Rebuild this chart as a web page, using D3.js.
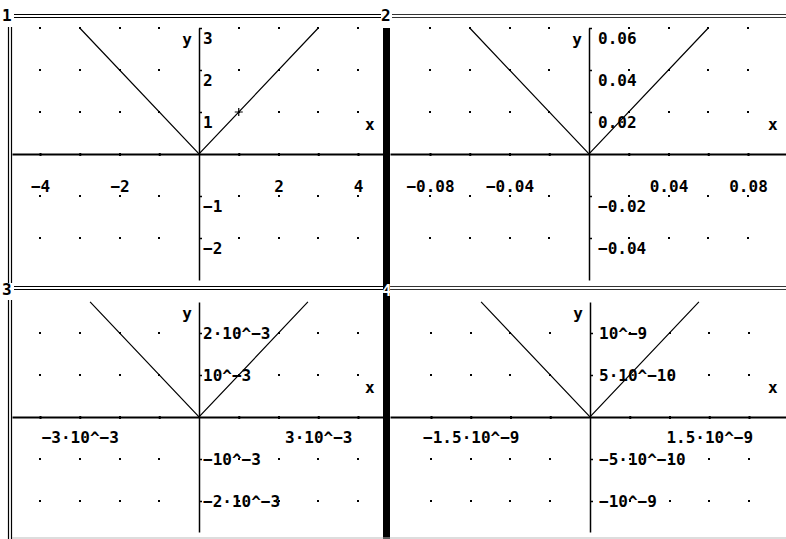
<!DOCTYPE html>
<html>
<head>
<meta charset="utf-8">
<script src="https://cdn.jsdelivr.net/npm/d3@7/dist/d3.min.js"></script>
<style>
  body { margin: 0; background: #fff; }
  svg text {
    font-family: "DejaVu Sans Mono", "Liberation Mono", monospace;
    font-weight: bold;
    font-size: 16px;
    fill: #000;
  }
</style>
</head>
<body>
<svg id="chart" width="786" height="539"></svg>
<script>
;(function() {
  'use strict';

  // Window numbers shown in the top-left of each plot.
  var panelNames = ['1', '2', '3', '4'];

  // Grid step of each window, in data units.
  var xSteps = [1, 0.02, 1e-3, 5e-10];
  var ySteps = [1, 0.02, 1e-3, 5e-10];

  // Labelled ticks.
  var xTicks = [
    [-4, -2, 2, 4],
    [-0.08, -0.04, 0.04, 0.08],
    [-3e-3, 3e-3],
    [-1.5e-9, 1.5e-9]
  ];
  var xTickLabels = [
    ['\u22124', '\u22122', '2', '4'],
    ['\u22120.08', '\u22120.04', '0.04', '0.08'],
    ['\u22123\u00b710^\u22123', '3\u00b710^\u22123'],
    ['\u22121.5\u00b710^\u22129', '1.5\u00b710^\u22129']
  ];
  var yTicks = [
    [3, 2, 1, -1, -2],
    [0.06, 0.04, 0.02, -0.02, -0.04],
    [2e-3, 1e-3, -1e-3, -2e-3],
    [1e-9, 5e-10, -5e-10, -1e-9]
  ];
  var yTickLabels = [
    ['3', '2', '1', '\u22121', '\u22122'],
    ['0.06', '0.04', '0.02', '\u22120.02', '\u22120.04'],
    ['2\u00b710^\u22123', '10^\u22123', '\u221210^\u22123', '\u22122\u00b710^\u22123'],
    ['10^\u22129', '5\u00b710^\u221210', '\u22125\u00b710^\u221210', '\u221210^\u22129']
  ];

  // y = |x|, plotted up to the top of each window.
  var curveX = [
    [-3, 0, 3],
    [-0.06, 0, 0.06],
    [-2.74e-3, 0, 2.74e-3],
    [-1.37e-9, 0, 1.37e-9]
  ];
  var curveY = [
    [3, 0, 3],
    [0.06, 0, 0.06],
    [2.74e-3, 0, 2.74e-3],
    [1.37e-9, 0, 1.37e-9]
  ];

  // Cursor cross in window 1.
  var cursorX = [1];
  var cursorY = [1];

  // Layout of the four windows (pixels).
  var frames = [
    {left: 12,  right: 383, top: 28,  bottom: 280, ox: 199, oy: 154, xLabY: 32, yLabX: 4, yLabDy: 10},
    {left: 390, right: 786, top: 28,  bottom: 280, ox: 589, oy: 154, xLabY: 32, yLabX: 9, yLabDy: 10},
    {left: 12,  right: 383, top: 302, bottom: 532, ox: 199, oy: 417, xLabY: 20, yLabX: 4, yLabDy: 0},
    {left: 390, right: 786, top: 302, bottom: 532, ox: 590, oy: 417, xLabY: 20, yLabX: 9, yLabDy: 0}
  ];
  var pxPerXStep = 39.75;
  var pxPerYStep = 42;

  var svg = d3.select('#chart');
  svg.append('rect').attr('width', 786).attr('height', 539).attr('fill', '#fff');

  frames.forEach(function(f, i) {
    var xs = xSteps[i], ys = ySteps[i];

    var x = d3.scaleLinear()
      .domain([(f.left - f.ox) / pxPerXStep * xs, (f.right - f.ox) / pxPerXStep * xs])
      .range([f.left, f.right]);
    var y = d3.scaleLinear()
      .domain([(f.oy - f.bottom) / pxPerYStep * ys, (f.oy - f.top) / pxPerYStep * ys])
      .range([f.bottom, f.top]);

    var g = svg.append('g').classed('panel panel-' + panelNames[i], true);

    // Grid columns / rows in step units.
    var cols = d3.range(Math.ceil((f.left + 4 - f.ox) / pxPerXStep), Math.floor((f.right - 4 - f.ox) / pxPerXStep) + 1)
      .map(function(k) { return k * xs; });
    var rows = d3.range(Math.ceil((f.oy - f.bottom + 3) / pxPerYStep), Math.floor((f.oy - f.top) / pxPerYStep) + 1)
      .map(function(k) { return k * ys; });

    // Dot grid.
    var dots = [];
    cols.forEach(function(cx) {
      if (Math.abs(cx) < xs / 2) return;
      rows.forEach(function(cy) {
        if (Math.abs(cy) < ys / 2) return;
        dots.push([cx, cy]);
      });
    });
    g.selectAll('.dot').data(dots).enter().append('rect')
      .classed('dot', true)
      .attr('x', function(d) { return Math.round(x(d[0])) - 1; })
      .attr('y', function(d) { return Math.round(y(d[1])) - 1; })
      .attr('width', 2).attr('height', 2)
      .attr('fill', '#000');

    // x axis: line + small step ticks.
    var xAxisGrid = d3.axisBottom(x)
      .tickValues(cols.filter(function(c) { return Math.abs(c) > xs / 2; }))
      .tickSize(2).tickSizeOuter(0).tickFormat('');
    var gx = g.append('g')
      .attr('transform', 'translate(0,' + y(0) + ')')
      .call(xAxisGrid);
    gx.select('.domain').attr('stroke', '#000').attr('stroke-width', 2);
    gx.selectAll('.tick line').attr('stroke', '#000').attr('stroke-width', 2).attr('y1', -1).attr('y2', 2);

    // x labels.
    var xAxisLab = d3.axisBottom(x)
      .tickValues(xTicks[i])
      .tickSize(0)
      .tickFormat(function(d, j) { return xTickLabels[i][j]; });
    var gxl = g.append('g')
      .attr('transform', 'translate(0,' + y(0) + ')')
      .call(xAxisLab);
    gxl.select('.domain').remove();
    gxl.selectAll('text')
      .attr('y', f.xLabY).attr('dy', '0.35em')
      .style('font-size', '16px').style('font-family', null);
    gxl.attr('font-family', null).attr('font-size', null);

    // y axis: line + small step ticks to the right.
    var yAxisGrid = d3.axisRight(y)
      .tickValues(rows.filter(function(r) { return Math.abs(r) > ys / 2; }))
      .tickSize(3).tickSizeOuter(0).tickFormat('');
    var gy = g.append('g')
      .attr('transform', 'translate(' + x(0) + ',0)')
      .call(yAxisGrid);
    gy.select('.domain').attr('stroke', '#000').attr('stroke-width', 1.5);
    gy.selectAll('.tick line').attr('stroke', '#000').attr('stroke-width', 1.5);

    // y labels.
    var yAxisLab = d3.axisRight(y)
      .tickValues(yTicks[i])
      .tickSize(0)
      .tickPadding(f.yLabX)
      .tickFormat(function(d, j) { return yTickLabels[i][j]; });
    var gyl = g.append('g')
      .attr('transform', 'translate(' + x(0) + ',0)')
      .call(yAxisLab);
    gyl.select('.domain').remove();
    gyl.selectAll('text').attr('dy', '0.35em').attr('y', f.yLabDy);
    gyl.attr('font-family', null).attr('font-size', null);

    // Axis names.
    g.append('text').attr('x', f.right - 18).attr('y', f.oy - 30).attr('dy', '0.35em').text('x');
    g.append('text').attr('x', x(0) - 12).attr('y', f.top + 11).attr('dy', '0.35em')
      .attr('text-anchor', 'middle').text('y');

    // Curve.
    var pts = curveX[i].map(function(v, j) { return [v, curveY[i][j]]; });
    g.append('path')
      .datum(pts)
      .attr('fill', 'none')
      .attr('stroke', '#000')
      .attr('stroke-width', 1.2)
      .attr('d', d3.line().x(function(d) { return x(d[0]); }).y(function(d) { return y(d[1]); }));

    if (i === 0) {
      cursorX.forEach(function(cx, j) {
        var px = x(cx), py = y(cursorY[j]);
        g.append('path')
          .attr('d', 'M' + (px - 4) + ',' + py + 'H' + (px + 4) + 'M' + px + ',' + (py - 4) + 'V' + (py + 4))
          .attr('stroke', '#000').attr('stroke-width', 1.2);
      });
    }
  });

  // Window frames.
  var chrome = svg.append('g').classed('chrome', true);
  function hline(x1, x2, yy, col) {
    chrome.append('line').attr('x1', x1).attr('x2', x2).attr('y1', yy).attr('y2', yy)
      .attr('stroke', col || '#000').attr('stroke-width', 1.2);
  }
  function vline(xx, y1, y2) {
    chrome.append('line').attr('x1', xx).attr('x2', xx).attr('y1', y1).attr('y2', y2)
      .attr('stroke', '#000').attr('stroke-width', 1.2);
  }
  // double top lines
  [14.5, 17.5].forEach(function(yy) { hline(14, 381, yy); hline(392, 786, yy, '#333'); });
  [286.5, 289.5].forEach(function(yy) { hline(14, 383, yy); hline(390, 786, yy, '#333'); });
  // double left lines
  [8.5, 11.5].forEach(function(xx) { vline(xx, 27, 283); vline(xx, 300, 539); });
  // thick divider of the active windows
  chrome.append('rect').attr('x', 383).attr('y', 28).attr('width', 7).attr('height', 511).attr('fill', '#000');
  hline(12, 786, 538, '#bbb');

  chrome.append('text').attr('x', 2).attr('y', 21).text(panelNames[0]);
  chrome.append('rect').attr('x', 381).attr('y', 7).attr('width', 11).attr('height', 16).attr('fill', '#fff');
  chrome.append('text').attr('x', 381).attr('y', 21).text(panelNames[1]);
  chrome.append('text').attr('x', 2).attr('y', 295).text(panelNames[2]);
  chrome.append('text').attr('x', 382).attr('y', 296).style('fill', '#fff').text(panelNames[3]);
}());
</script>
</body>
</html>
